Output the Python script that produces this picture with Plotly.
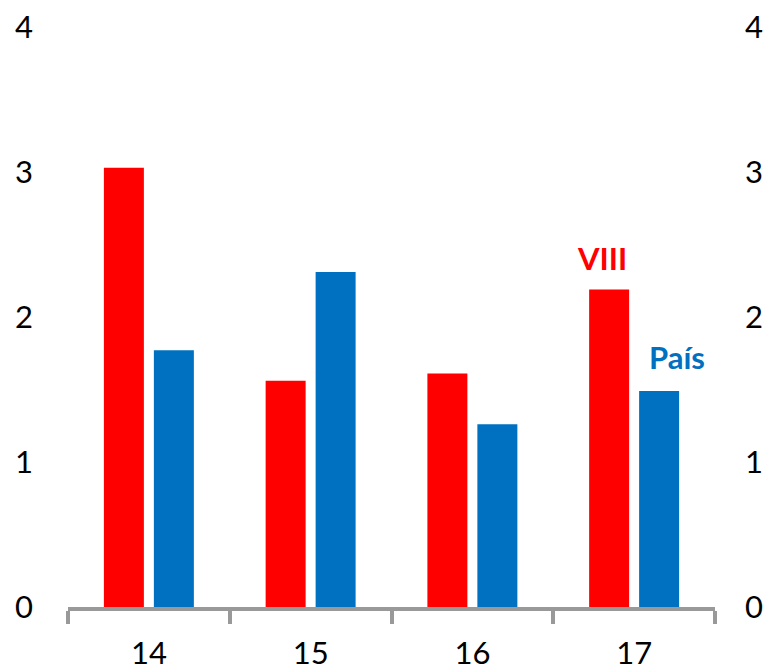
import plotly.graph_objects as go

years = ["14", "15", "16", "17"]
viii = [3.03, 1.56, 1.61, 2.19]
pais = [1.77, 2.31, 1.26, 1.49]
y_ticks = [0, 1, 2, 3, 4]

RED = "#FF0000"
BLUE = "#0070C0"
FONT = "Lato"

fig = go.Figure()
fig.add_trace(go.Bar(name="VIII", x=years, y=viii, marker=dict(color=RED, line=dict(width=0))))
fig.add_trace(go.Bar(name="País", x=years, y=pais, marker=dict(color=BLUE, line=dict(width=0))))
# invisible trace so the right-hand axis gets drawn
fig.add_trace(go.Scatter(x=years, y=viii, yaxis="y2", mode="markers",
                         marker=dict(opacity=0), hoverinfo="skip", showlegend=False))

# page body adds an 8px margin, so the figure is a bit smaller than the window
fig.update_layout(
    width=766, height=661,
    margin=dict(l=60, r=59, t=19, b=62),
    paper_bgcolor="white", plot_bgcolor="white",
    barmode="group", bargap=0.382, bargroupgap=0.2,
    showlegend=False,
    font=dict(family=FONT, size=31, color="black"),
    xaxis=dict(
        type="category", automargin=False, range=[-0.5, len(years) - 0.5],
        showline=True, linecolor="#999999", linewidth=4,
        ticks="outside", tickson="boundaries", ticklen=13,
        tickcolor="#999999", tickwidth=4, tickangle=0,
        ticklabelstandoff=16, showgrid=False, ticklabeloverflow="allow",
    ),
    yaxis=dict(
        range=[0, 4], tickvals=y_ticks, showgrid=False, zeroline=False,
        showline=False, ticks="", ticklabelstandoff=34, automargin=False,
        ticklabeloverflow="allow",
    ),
    yaxis2=dict(
        range=[0, 4], tickvals=y_ticks, overlaying="y", side="right",
        showgrid=False, zeroline=False, showline=False, ticks="",
        ticklabelstandoff=29, automargin=False, ticklabeloverflow="allow",
    ),
)

last = len(years) - 1  # category index of "17"
fig.add_annotation(x=last, y=viii[-1], text="<b>VIII</b>", showarrow=False,
                   xshift=-32, yshift=10, yanchor="bottom",
                   font=dict(family=FONT, size=31, color=RED))
fig.add_annotation(x=last, y=pais[-1], text="<b>País</b>", showarrow=False,
                   xshift=43, yshift=13, yanchor="bottom",
                   font=dict(family=FONT, size=31, color=BLUE))

fig.write_html("out.html")
